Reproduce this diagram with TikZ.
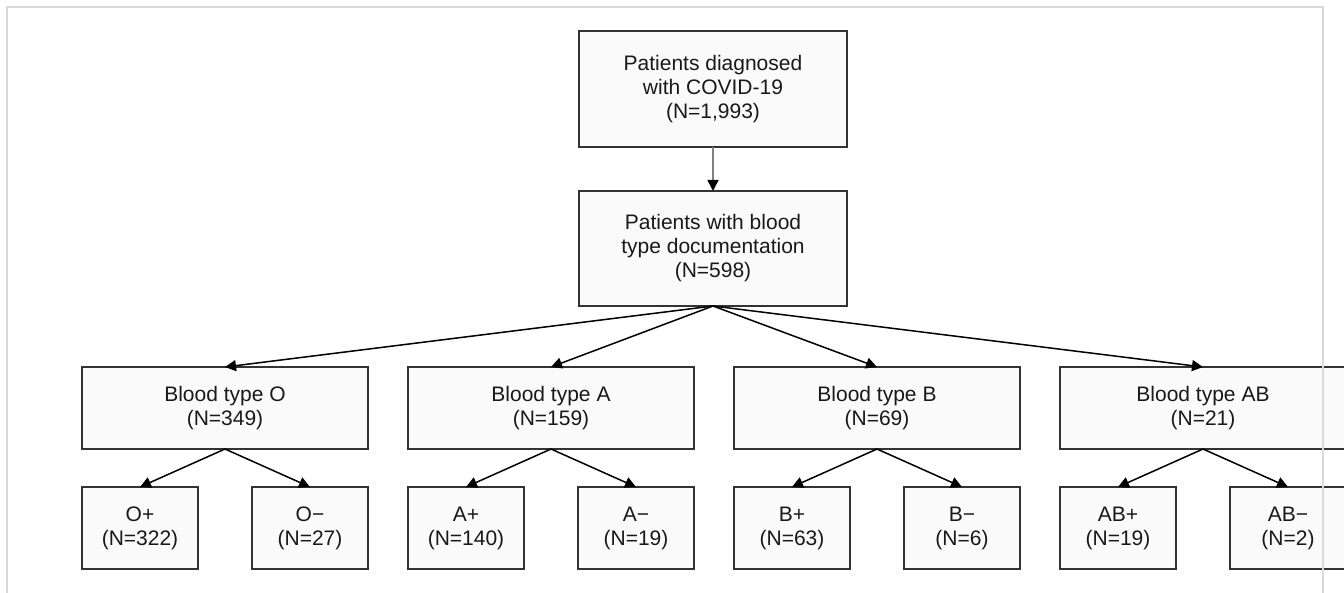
\documentclass[tikz,border=0pt]{standalone}
\usepackage{fontspec}
\setmainfont{Liberation Sans}
\usetikzlibrary{arrows.meta, positioning}

\begin{document}
\begin{tikzpicture}
    \tikzset{
        block/.style = {rectangle, draw=black!80, fill=black!2, line width=0.9pt, align=center, text=black!90, font=\fontsize{10.5}{12}\selectfont, inner sep=0pt, outer sep=0pt},
        headbox/.style = {block, minimum width=134pt, minimum height=58pt},
        typebox/.style = {block, minimum width=143pt, minimum height=41pt},
        leafbox/.style = {block, minimum width=58pt, minimum height=41pt},
        line/.style = {draw=black, line width=0.75pt, -{Triangle[width=5.5pt,length=5.5pt]}},
        greyline/.style = {line, draw=black!50, -{Triangle[width=5.5pt,length=5.5pt,color=black]}}
    }

    \useasboundingbox (0,0) rectangle (672pt,-296.5pt);

    \node[headbox](all) at (356.5pt,-44.5pt){Patients diagnosed\\with COVID-19\\(N=1,993)};
    \node[headbox, minimum height=57.5pt](doc)[below = 22pt of all]{Patients with blood\\type documentation\\(N=598)};

    \node[typebox](t_o) at (112.5pt,-204pt){Blood type O\\(N=349)};
    \node[typebox](t_a)[right = 20pt of t_o]{Blood type A\\(N=159)};
    \node[typebox](t_b)[right = 20pt of t_a]{Blood type B\\(N=69)};
    \node[typebox](t_ab)[right = 20pt of t_b]{Blood type AB\\(N=21)};

    \node[leafbox](o_p)[below right = 19pt and 0pt of t_o.south west]{O+\\(N=322)};
    \node[leafbox](o_m)[below left = 19pt and 0pt of t_o.south east]{O−\\(N=27)};
    \node[leafbox](a_p)[below right = 19pt and 0pt of t_a.south west]{A+\\(N=140)};
    \node[leafbox](a_m)[below left = 19pt and 0pt of t_a.south east]{A−\\(N=19)};
    \node[leafbox](b_p)[below right = 19pt and 0pt of t_b.south west]{B+\\(N=63)};
    \node[leafbox](b_m)[below left = 19pt and 0pt of t_b.south east]{B−\\(N=6)};
    \node[leafbox](ab_p)[below right = 19pt and 0pt of t_ab.south west]{AB+\\(N=19)};
    \node[leafbox](ab_m)[below left = 19pt and 0pt of t_ab.south east]{AB−\\(N=2)};

    \path [greyline] (all) -- (doc);

    \path [line] (doc.south) -- (t_o.north);
    \path [line] (doc.south) -- (t_a.north);
    \path [line] (doc.south) -- (t_b.north);
    \path [line] (doc.south) -- (t_ab.north);

    \path [line] (t_o.south) -- (o_p.north);
    \path [line] (t_o.south) -- (o_m.north);
    \path [line] (t_a.south) -- (a_p.north);
    \path [line] (t_a.south) -- (a_m.north);
    \path [line] (t_b.south) -- (b_p.north);
    \path [line] (t_b.south) -- (b_m.north);
    \path [line] (t_ab.south) -- (ab_p.north);
    \path [line] (t_ab.south) -- (ab_m.north);

    \draw[black!15, line width=1pt] (3.5pt,-296.5pt) -- (3.5pt,-3.5pt) -- (661.5pt,-3.5pt) -- (661.5pt,-296.5pt);

\end{tikzpicture}
\end{document}
